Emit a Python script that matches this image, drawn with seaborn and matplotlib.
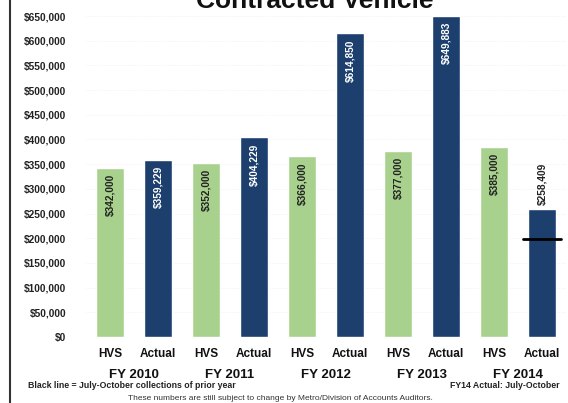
import matplotlib
matplotlib.use("Agg")
import matplotlib.pyplot as plt
import seaborn as sns
import pandas as pd
from matplotlib.transforms import blended_transform_factory

years = ["FY 2010", "FY 2011", "FY 2012", "FY 2013", "FY 2014"]
hvs = [342000, 352000, 366000, 377000, 385000]
actual = [359229, 404229, 614850, 649883, 258409]
prior_year_jul_oct = 198000  # black line on FY 2014 Actual
series = ["HVS", "Actual"]
yticks = list(range(0, 650001, 50000))

rows = []
for i, y in enumerate(years):
    rows.append({"slot": f"{y} HVS", "type": "HVS", "value": hvs[i], "year": y})
    rows.append({"slot": f"{y} Actual", "type": "Actual", "value": actual[i], "year": y})
df = pd.DataFrame(rows)

sns.set_theme(style="white")
plt.rcParams["font.family"] = ["Liberation Sans", "DejaVu Sans"]

green = "#a9d18e"
navy = "#1c3f6e"

fig = plt.figure(figsize=(5.68, 4.03), dpi=100)
ax = fig.add_axes([86 / 568, 1 - 337 / 403, 480 / 568, 321 / 403])

sns.barplot(data=df, x="slot", y="value", hue="type", order=list(df["slot"]),
            palette={"HVS": green, "Actual": navy}, dodge=False, width=0.6,
            ax=ax, legend=False, saturation=1)

ax.set_ylim(0, 650000)
ax.set_xlim(-0.5, 9.5)
ax.set_yticks(yticks)
ax.set_yticklabels([f"${v:,.0f}" for v in yticks], fontsize=7.3, fontweight="bold",
                   color="#222222")
ax.set_xticks(range(10))
ax.set_xticklabels([t for _ in years for t in series], fontsize=8.5, fontweight="bold",
                   color="#111111")
ax.tick_params(axis="x", length=0, pad=8)
ax.tick_params(axis="y", length=0, pad=14)
ax.set_xlabel("")
ax.set_ylabel("")
for s in ax.spines.values():
    s.set_visible(False)
ax.yaxis.grid(True, color="#eeeeee", linewidth=0.6, linestyle=":")
ax.set_axisbelow(True)

# value labels
for i, row in df.reset_index(drop=True).iterrows():
    v = row["value"]
    txt = f"${v:,.0f}"
    if row["type"] == "HVS":
        ax.text(i, v - 12000, txt, rotation=90, ha="center", va="top",
                fontsize=7.3, fontweight="bold", color="#222222")
    elif row["year"] == "FY 2014":
        ax.text(i, v + 8000, txt, rotation=90, ha="center", va="bottom",
                fontsize=7.3, fontweight="bold", color="#222222")
    else:
        ax.text(i, v - 12000, txt, rotation=90, ha="center", va="top",
                fontsize=7.3, fontweight="bold", color="white")

# black line (prior year July-October)
ax.plot([8.6, 9.4], [prior_year_jul_oct] * 2, color="black", linewidth=2)

# group labels
trans = blended_transform_factory(ax.transData, fig.transFigure)
for i, y in enumerate(years):
    ax.text(2 * i + 0.5, 1 - 375 / 403, y, transform=trans, ha="center", va="center",
            fontsize=9.5, fontweight="bold", color="#111111")

fig.text(28 / 568, 1 - 386 / 403, "Black line = July-October collections of prior year",
         ha="left", va="center", fontsize=6.3, fontweight="bold", color="#222222")
fig.text(560 / 568, 1 - 386 / 403, "FY14 Actual: July-October",
         ha="right", va="center", fontsize=6.3, fontweight="bold", color="#222222")
fig.text(280 / 568, 1 - 399 / 403, "These numbers are still subject to change by Metro/Division of Accounts Auditors.",
         ha="center", va="center", fontsize=6, color="#333333")

fig.text(315 / 568, 1 - 8 / 403, "Contracted Vehicle", ha="center", va="baseline",
         fontsize=19, fontweight="bold", color="#111111")

# left frame line
fig.add_artist(plt.Line2D([10 / 568, 10 / 568], [0.0, 1.0], transform=fig.transFigure,
                          color="#333333", linewidth=1.5))

fig.savefig("out.png", dpi=100)
